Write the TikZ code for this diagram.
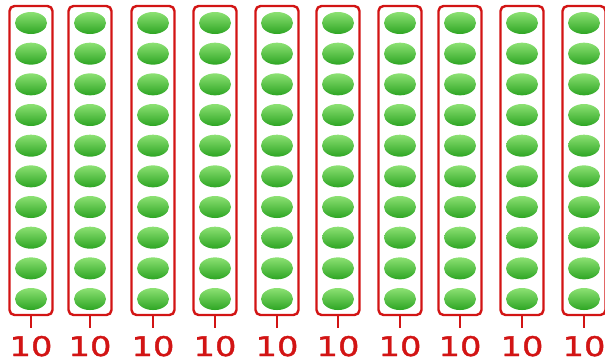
\documentclass[tikz,border=0pt]{standalone}
\usepackage{fontspec}
\newfontfamily\tenfont[FakeStretch=1.25,FakeBold=1.6]{DejaVu Sans}
\definecolor{boxred}{RGB}{210,20,20}
\definecolor{dotlight}{RGB}{140,225,115}
\definecolor{dotdark}{RGB}{45,165,35}

\begin{document}
\begin{tikzpicture}[x=1pt, y=-1pt,
    colbox/.style={draw=boxred, line width=2.4pt, rounded corners=5pt, minimum width=43pt, minimum height=309pt, inner sep=0pt},
    dot/.style={top color=dotlight, bottom color=dotdark},
    tenlabel/.style={text=boxred, font=\tenfont\fontsize{27}{30}\selectfont, inner xsep=0pt, inner ysep=8pt, text height=20pt, text depth=0pt}]
    \useasboundingbox (0,0) rectangle (605,364);
    \foreach \x [count=\i] in {31,90,153,215,277,338,400,460,522,584} {
        \node[colbox] (col\i) at (\x,160.5) {};
        \foreach \k in {0,...,9}
            \shade[dot] (\x,23+30.67*\k) ellipse [x radius=16pt, y radius=11pt];
        \node[tenlabel, anchor=base] (ten\i) at (\x,356) {10};
        \draw[boxred, line width=1.8pt] (col\i.south) -- (ten\i.north);
    }
\end{tikzpicture}
\end{document}
